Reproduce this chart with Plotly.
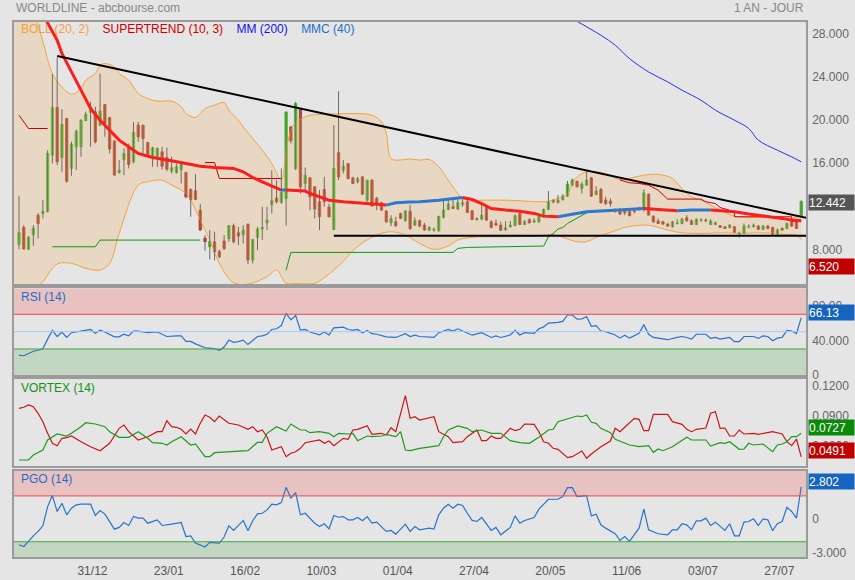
import plotly.graph_objects as go

# ---- daily candles (session index 0 = first candle on the left) ----
opens = [8.48, 10.05, 8.02, 9.38, 11.17, 11.35, 11.51, 16.75, 21.17, 16.54,
         20.15, 15.52, 17.52, 17.52, 19.96, 20.70, 20.76, 19.53, 21.44, 20.24,
         18.05, 15.12, 16.35, 17.46, 16.13, 19.53, 19.53, 17.92, 16.60, 16.60,
         17.06, 16.54, 15.27, 15.15, 15.42, 15.15, 13.57, 13.45, 11.66, 9.07,
         8.26, 8.72, 7.80, 8.79, 9.03, 10.21, 9.56, 9.40, 10.36, 7.03,
         9.13, 9.90, 10.48, 12.18, 12.77, 12.37, 12.74, 19.37, 15.52, 21.01,
         14.13, 14.65, 13.82, 12.43, 13.57, 11.94, 9.87, 16.97, 15.36, 15.98,
         14.65, 14.28, 14.74, 12.58, 14.44, 12.74, 12.34, 11.57, 10.48, 10.58,
         11.35, 10.67, 11.56, 10.27, 10.67, 10.27, 9.81, 9.81, 9.75, 10.98,
         11.72, 11.97, 11.75, 12.18, 12.43, 11.60, 10.85, 10.82, 11.87, 10.58,
         10.42, 10.27, 9.81, 10.11, 10.21, 11.35, 10.33, 10.79, 10.55, 10.58,
         11.10, 11.75, 12.58, 12.37, 12.64, 12.95, 13.97, 14.34, 13.66, 13.97,
         14.65, 13.11, 13.57, 12.58, 12.49, 11.60, 11.75, 11.66, 11.56, 11.56,
         11.75, 11.87, 13.14, 11.10, 10.64, 10.58, 10.36, 10.11, 10.42, 10.42,
         10.95, 10.67, 10.33, 10.73, 10.73, 10.33, 10.33, 10.21, 10.11, 10.05,
         10.11, 9.44, 9.50, 10.11, 10.11, 10.18, 9.87, 10.18, 10.05, 9.41,
         9.96, 9.96, 10.64, 10.73, 11.13]
highs = [12.99, 10.27, 9.25, 10.27, 11.38, 12.59, 17.21, 24.25, 25.79, 21.01,
         20.20, 17.99, 19.13, 20.09, 20.76, 21.69, 21.23, 24.31, 21.47, 20.30,
         18.14, 16.29, 17.37, 17.83, 19.81, 19.84, 19.55, 17.99, 17.52, 17.46,
         17.52, 17.46, 16.60, 15.98, 15.98, 15.20, 13.67, 14.99, 12.22, 9.34,
         9.81, 9.65, 8.00, 9.34, 10.27, 10.42, 10.11, 10.27, 10.40, 8.94,
         10.11, 11.97, 11.97, 15.36, 14.44, 15.52, 20.76, 19.40, 21.69, 21.07,
         15.61, 14.70, 13.85, 13.51, 14.74, 12.27, 19.53, 22.68, 16.29, 16.00,
         14.74, 14.74, 14.76, 14.44, 14.50, 12.89, 12.43, 11.66, 11.19, 11.04,
         11.41, 11.66, 12.12, 10.98, 10.79, 10.48, 10.18, 10.05, 11.10, 12.52,
         12.58, 12.64, 12.64, 12.83, 12.80, 11.66, 10.98, 12.21, 11.97, 10.73,
         10.79, 10.58, 10.64, 10.64, 11.26, 11.41, 10.73, 10.89, 10.89, 11.29,
         11.81, 13.42, 12.64, 13.05, 13.14, 14.37, 14.59, 14.37, 14.28, 15.21,
         14.74, 13.88, 13.73, 12.89, 12.74, 11.81, 11.81, 11.81, 11.66, 11.66,
         11.97, 13.57, 13.20, 11.19, 10.89, 10.67, 10.48, 10.64, 10.82, 10.95,
         11.19, 10.79, 10.89, 10.89, 10.89, 10.82, 10.58, 10.27, 10.18, 10.36,
         10.18, 9.65, 10.42, 10.33, 10.42, 10.27, 10.27, 10.27, 10.11, 9.96,
         10.05, 10.48, 10.89, 10.79, 12.58]
lows = [8.02, 8.00, 8.00, 8.36, 9.04, 10.89, 11.45, 15.98, 15.83, 15.21,
        14.19, 14.84, 15.36, 16.60, 19.90, 17.52, 17.83, 19.47, 18.45, 16.91,
        14.84, 15.05, 14.90, 15.52, 15.98, 17.99, 16.91, 16.60, 15.67, 15.67,
        15.42, 15.27, 15.05, 15.05, 14.13, 12.74, 11.04, 12.59, 9.75, 7.89,
        7.09, 7.00, 7.20, 7.95, 8.73, 8.57, 8.42, 8.57, 6.66, 6.72,
        7.95, 8.88, 9.81, 11.35, 12.27, 12.27, 10.21, 17.83, 15.36, 13.20,
        13.51, 11.66, 10.89, 9.81, 11.97, 10.98, 9.81, 14.44, 15.05, 14.50,
        14.06, 14.13, 13.05, 12.43, 11.97, 11.66, 11.60, 10.48, 10.17, 10.11,
        10.82, 10.58, 9.81, 10.18, 10.05, 9.75, 9.71, 9.65, 9.65, 10.89,
        11.66, 11.75, 11.66, 11.97, 11.41, 10.73, 10.67, 10.73, 10.67, 9.96,
        10.18, 9.75, 9.78, 10.05, 10.18, 10.27, 10.27, 10.42, 10.48, 10.48,
        10.98, 11.66, 12.27, 12.27, 12.52, 12.89, 13.88, 13.76, 13.20, 13.91,
        12.89, 13.05, 12.27, 12.12, 11.97, 11.41, 11.19, 11.19, 11.10, 11.35,
        11.60, 11.50, 11.19, 10.48, 10.36, 10.30, 10.11, 10.05, 10.33, 10.33,
        10.58, 10.27, 10.27, 10.58, 10.52, 10.27, 10.27, 10.02, 9.90, 9.96,
        9.56, 9.13, 9.44, 9.96, 10.05, 9.81, 9.81, 9.87, 9.34, 9.34,
        9.75, 9.90, 10.11, 9.90, 11.10]
closes = [9.56, 8.05, 9.13, 9.99, 10.42, 11.54, 16.91, 21.17, 16.13, 19.59,
          14.34, 17.77, 18.97, 19.96, 20.52, 21.23, 17.99, 20.83, 19.68, 17.31,
          14.90, 15.36, 16.91, 15.89, 18.85, 18.45, 18.29, 16.75, 17.43, 17.37,
          15.73, 15.46, 15.58, 15.67, 15.89, 12.89, 12.65, 12.65, 9.81, 8.73,
          8.76, 7.80, 7.34, 8.11, 10.21, 8.73, 9.25, 9.81, 7.03, 8.94,
          9.90, 10.05, 10.73, 12.52, 12.43, 13.29, 20.76, 18.08, 21.53, 13.82,
          14.87, 12.89, 11.75, 11.04, 12.43, 11.04, 15.52, 14.74, 15.73, 14.59,
          14.13, 14.56, 13.14, 14.44, 12.03, 12.21, 11.66, 10.58, 10.86, 10.21,
          10.89, 11.57, 9.96, 10.67, 10.18, 9.81, 10.05, 9.87, 11.10, 11.66,
          12.21, 11.81, 12.34, 12.34, 11.44, 10.79, 10.82, 11.19, 10.73, 10.05,
          10.27, 9.78, 10.02, 10.27, 11.13, 10.33, 10.58, 10.48, 10.67, 11.10,
          11.72, 12.43, 12.43, 12.58, 12.95, 14.06, 14.44, 13.82, 14.06, 14.44,
          12.95, 13.42, 12.34, 12.27, 12.27, 11.56, 11.29, 11.41, 11.13, 11.53,
          11.72, 13.26, 11.19, 10.58, 10.42, 10.36, 10.18, 10.58, 10.45, 10.82,
          10.67, 10.33, 10.82, 10.74, 10.70, 10.64, 10.48, 10.05, 9.96, 10.27,
          9.59, 9.53, 10.18, 10.15, 10.27, 9.87, 10.18, 9.96, 9.41, 9.81,
          9.81, 10.42, 10.18, 9.96, 12.44]
days = list(range(len(closes)))

date_labels = ["31/12", "23/01", "16/02", "10/03", "01/04",
               "27/04", "20/05", "11/06", "03/07", "27/07"]

# ---- overlays (session index, value) ----
boll_up_day = [-1, 3, 5, 7, 9, 11, 13, 14, 16, 17, 18, 20, 21, 23, 25, 27, 29, 32, 34, 35,
               37, 38, 39, 41, 43, 44, 46, 47, 49, 51, 53, 55, 56, 57, 58, 60, 61, 65, 70, 74,
               76, 77, 78, 80, 82, 84, 86, 88, 90, 92, 93, 95, 98, 102, 105, 109, 111, 113, 115, 116,
               117, 119, 121, 123, 126, 130, 133, 135, 137, 139, 141, 143, 145, 147, 150, 153, 156, 159, 162, 164]
boll_up = [33.0, 30.0, 27.3, 24.31, 23.08, 22.4, 22.92, 23.70, 24.31, 25.08, 25.24, 24.93, 24.31, 23.70, 22.46, 22.0, 21.75, 21.75, 21.23, 20.61,
           20.24, 20.61, 21.07, 21.38, 21.63, 20.92, 19.99, 19.37, 18.29, 17.21, 15.98, 14.44, 17.21, 19.06, 19.84, 20.30, 20.45, 20.55, 20.61, 20.45,
           19.84, 18.76, 16.44, 16.29, 16.40, 16.29, 16.35, 15.67, 14.44, 13.20, 12.74, 12.58, 12.58, 12.58, 12.52, 12.43, 12.49, 12.74, 13.20, 14.13,
           14.74, 15.21, 15.21, 15.05, 14.50, 14.81, 14.99, 14.90, 14.59, 13.66, 12.89, 12.58, 12.12, 11.66, 11.10, 10.98, 10.98, 10.92, 10.89, 11.20]
boll_low_day = [-1, 4, 8, 11, 14, 17, 19, 21, 25, 27, 30, 32, 35, 38, 40, 42, 45, 48, 52, 54,
                56, 58, 62, 64, 66, 68, 70, 73, 76, 78, 80, 82, 84, 87, 90, 92, 95, 102, 109, 112,
                114, 117, 119, 121, 123, 125, 127, 131, 133, 136, 139, 144, 148, 151, 155, 158, 161, 163, 164]
boll_low = [4.0, 4.6, 6.66, 6.72, 6.26, 6.10, 6.72, 9.50, 13.97, 14.28, 14.44, 13.97, 13.20, 10.73, 8.88, 6.72, 4.93, 4.80, 5.48, 6.10,
            4.87, 4.85, 4.87, 5.40, 6.10, 6.90, 7.90, 8.90, 9.50, 9.65, 9.50, 9.10, 8.57, 8.02, 8.33, 8.88, 9.13, 9.19, 9.25, 9.41,
            9.13, 8.73, 8.73, 9.13, 9.44, 9.75, 10.05, 10.27, 10.18, 9.81, 9.56, 9.50, 9.56, 9.50, 9.56, 9.50, 9.40, 9.34, 8.94]

mmc_day = [4, 5, 8, 9, 11, 13, 15, 17, 19, 21, 23, 25, 28, 30, 32, 35, 38, 41, 42, 45,
           47, 49, 51, 53, 55, 56, 58, 60, 61, 63, 65, 68, 71, 74, 77, 79, 82, 84, 88, 91,
           93, 95, 97, 99, 102, 105, 108, 110, 113, 115, 117, 119, 123, 126, 129, 131, 134, 136, 138, 141,
           145, 147, 150, 153, 157, 160, 162, 164]
mmc = [30.5, 29.8, 27.4, 26.17, 24.47, 22.77, 21.07, 19.99, 19.07, 18.14, 17.52, 16.91, 16.54, 16.35, 16.23, 15.98, 15.73, 15.61, 15.58, 15.52,
       15.21, 14.68, 14.28, 13.88, 13.51, 13.52, 13.50, 13.42, 13.20, 12.89, 12.58, 12.43, 12.34, 12.21, 12.12, 12.34, 12.40, 12.43, 12.58, 12.74,
       12.83, 12.64, 12.27, 11.81, 11.66, 11.56, 11.35, 11.10, 11.04, 11.19, 11.35, 11.50, 11.60, 11.66, 11.75, 11.81, 11.72, 11.66, 11.60, 11.66,
       11.67, 11.60, 11.50, 11.29, 11.10, 10.89, 10.73, 10.67]

mm200_day = [116, 122, 125, 128, 132, 136, 139, 143, 146, 150, 153, 155, 159, 162, 164]
mm200 = [29.4, 27.86, 26.94, 25.70, 24.46, 23.54, 22.77, 21.84, 20.92, 19.99, 19.22, 18.14, 17.21, 16.59, 16.13]

st_down_day = [0, 2, 6, None, 39, 41, 42, 55, None,
               126, 128, 130, 132, 134, 135, 136, 143, 144, 146, 147, 150, 150, 162, 162, 164]
st_down = [20.45, 19.22, 19.22, None, 16.07, 16.07, 14.59, 14.59, None,
           14.44, 14.19, 14.13, 13.97, 13.51, 13.05, 12.68, 12.68, 12.43, 12.27, 11.90, 11.50, 11.04, 11.04, 10.64, 10.64]
st_up_day = [7, 16, 17, 38, None, 56, 57, 91, 92, 94, 110, 111, 112, 113, 114, 115, 117, 119, 123]
st_up = [8.26, 8.26, 8.88, 8.88, None, 6.10, 7.74, 7.74, 8.11, 8.20, 8.33, 9.19, 9.50, 9.90, 10.05, 10.42, 10.95, 11.41, 11.66]

resist_day = [8, 165]
resist = [25.94, 10.94]
support_day = [66, 165]
support = [9.27, 9.27]

rsi_day = [0, 1, 2, 3, 4, 5, 6, 7, 8, 9, 10, 11, 13, 15, 16, 17, 18, 20, 21, 22,
           23, 24, 25, 27, 29, 30, 31, 33, 34, 35, 36, 37, 39, 40, 41, 42, 43, 44, 45, 46,
           47, 48, 50, 51, 52, 53, 54, 55, 56, 57, 58, 59, 60, 61, 62, 63, 64, 65, 66, 67,
           68, 69, 70, 71, 72, 73, 74, 75, 77, 79, 81, 82, 83, 84, 87, 88, 90, 91, 92, 93,
           95, 97, 99, 100, 101, 103, 104, 105, 106, 108, 109, 110, 111, 113, 114, 115, 116, 117, 118, 119,
           120, 121, 122, 123, 125, 126, 127, 128, 130, 131, 132, 133, 136, 138, 139, 140, 141, 142, 144, 145,
           146, 147, 149, 150, 151, 152, 154, 155, 156, 157, 158, 159, 160, 161, 162, 163, 164]
rsi = [22.9, 22.2, 24.8, 27.4, 28.5, 30.3, 41.4, 51.4, 44.4, 49.6, 43.3, 48.8, 50.7, 52.5, 48.1, 51.8, 49.6, 44.0, 44.0, 47.0,
       45.1, 50.7, 50.7, 48.8, 49.6, 47.0, 44.4, 45.1, 45.1, 38.8, 38.8, 35.9, 31.4, 31.1, 30.3, 28.5, 32.2, 40.3, 37.7, 38.5,
       40.3, 35.1, 44.4, 45.1, 47.0, 52.5, 53.3, 57.0, 71.1, 63.7, 68.5, 51.8, 52.5, 49.6, 47.7, 46.2, 49.6, 46.2, 54.4, 54.4,
       55.1, 52.5, 51.8, 52.5, 48.8, 51.4, 47.7, 47.0, 44.0, 43.3, 47.7, 44.4, 45.9, 44.4, 43.3, 48.8, 52.5, 50.7, 53.3, 50.7,
       45.9, 48.8, 43.3, 45.1, 43.3, 46.2, 51.4, 46.2, 48.8, 48.1, 53.3, 55.5, 59.9, 60.7, 61.8, 69.2, 69.2, 64.4, 64.8, 67.4,
       56.2, 57.0, 50.7, 50.0, 46.2, 42.5, 45.9, 42.5, 48.1, 58.1, 47.0, 43.3, 40.7, 43.3, 44.4, 43.3, 41.4, 47.0, 47.0, 42.2,
       43.3, 41.4, 43.3, 38.5, 38.5, 44.4, 44.4, 42.2, 45.1, 44.4, 39.6, 42.5, 43.3, 51.4, 50.7, 47.7, 66.13]

vim_day = [0, 1, 2, 3, 4, 5, 6, 7, 8, 9, 10, 11, 13, 15, 17, 19, 21, 22, 23, 25,
           27, 29, 30, 31, 32, 33, 34, 35, 36, 37, 38, 39, 40, 41, 42, 43, 44, 46, 48, 49,
           50, 51, 52, 53, 54, 55, 56, 57, 58, 59, 60, 62, 63, 64, 65, 66, 68, 69, 70, 71,
           73, 74, 76, 77, 78, 79, 81, 82, 83, 84, 87, 88, 90, 91, 93, 94, 96, 97, 98, 99,
           100, 101, 103, 104, 105, 106, 108, 109, 110, 111, 112, 113, 115, 116, 118, 119, 120, 122, 124, 125,
           126, 127, 129, 130, 131, 132, 133, 136, 137, 139, 140, 141, 142, 144, 145, 146, 147, 148, 149, 150,
           151, 152, 154, 155, 157, 158, 160, 161, 162, 163, 164]
vim = [0.0977, 0.0987, 0.1010, 0.0993, 0.0927, 0.0843, 0.0727, 0.0627, 0.0603, 0.0677, 0.0683, 0.0700, 0.0643, 0.0593, 0.0553, 0.0627, 0.0777, 0.0810, 0.0743, 0.0660,
       0.0693, 0.0743, 0.0743, 0.0853, 0.0793, 0.0787, 0.0767, 0.0720, 0.0770, 0.0720, 0.0827, 0.0910, 0.0887, 0.0843, 0.0900, 0.0860, 0.0827, 0.0810, 0.0767, 0.0793,
       0.0743, 0.0760, 0.0693, 0.0560, 0.0577, 0.0593, 0.0493, 0.0527, 0.0543, 0.0577, 0.0633, 0.0653, 0.0660, 0.0627, 0.0650, 0.0603, 0.0677, 0.0667, 0.0760, 0.0767,
       0.0803, 0.0717, 0.0727, 0.0710, 0.0783, 0.0743, 0.1103, 0.0877, 0.0893, 0.0860, 0.0893, 0.0743, 0.0693, 0.0633, 0.0643, 0.0693, 0.0760, 0.0653, 0.0653, 0.0700,
       0.0677, 0.0677, 0.0777, 0.0753, 0.0767, 0.0820, 0.0817, 0.0743, 0.0643, 0.0627, 0.0577, 0.0567, 0.0483, 0.0493, 0.0550, 0.0477, 0.0520, 0.0593, 0.0650, 0.0777,
       0.0743, 0.0787, 0.0877, 0.0867, 0.0753, 0.0753, 0.0917, 0.0917, 0.0843, 0.0817, 0.0767, 0.0743, 0.0767, 0.0780, 0.0927, 0.0943, 0.0777, 0.0780, 0.0700, 0.0700,
       0.0760, 0.0720, 0.0727, 0.0717, 0.0733, 0.0743, 0.0720, 0.0643, 0.0603, 0.0670, 0.0491]
vip_day = [0, 2, 3, 4, 5, 6, 8, 10, 11, 13, 14, 16, 18, 19, 21, 23, 25, 27, 28, 30,
           31, 32, 34, 36, 37, 39, 40, 41, 44, 46, 48, 50, 51, 52, 54, 56, 57, 59, 60, 61,
           63, 65, 66, 67, 69, 70, 71, 73, 74, 76, 77, 79, 80, 81, 82, 84, 86, 88, 89, 90,
           92, 94, 95, 97, 99, 101, 103, 105, 107, 109, 111, 112, 113, 116, 117, 118, 119, 120, 121, 122,
           124, 125, 128, 130, 132, 133, 134, 135, 137, 140, 141, 144, 145, 147, 148, 149, 151, 152, 153, 154,
           156, 158, 159, 160, 161, 162, 163, 164]
vip = [0.0460, 0.0460, 0.0510, 0.0537, 0.0560, 0.0660, 0.0720, 0.0700, 0.0727, 0.0793, 0.0833, 0.0820, 0.0793, 0.0743, 0.0687, 0.0687, 0.0743, 0.0677, 0.0633, 0.0627,
       0.0610, 0.0643, 0.0693, 0.0610, 0.0620, 0.0493, 0.0493, 0.0533, 0.0543, 0.0543, 0.0553, 0.0637, 0.0637, 0.0727, 0.0793, 0.0750, 0.0820, 0.0760, 0.0760, 0.0733,
       0.0743, 0.0727, 0.0693, 0.0727, 0.0720, 0.0727, 0.0653, 0.0700, 0.0693, 0.0700, 0.0717, 0.0693, 0.0743, 0.0560, 0.0553, 0.0577, 0.0587, 0.0603, 0.0693, 0.0760,
       0.0800, 0.0777, 0.0743, 0.0760, 0.0727, 0.0727, 0.0653, 0.0633, 0.0627, 0.0687, 0.0760, 0.0767, 0.0843, 0.0883, 0.0900, 0.0893, 0.0910, 0.0837, 0.0827, 0.0777,
       0.0733, 0.0667, 0.0610, 0.0593, 0.0603, 0.0537, 0.0570, 0.0553, 0.0593, 0.0687, 0.0660, 0.0660, 0.0600, 0.0633, 0.0627, 0.0643, 0.0567, 0.0570, 0.0627, 0.0610,
       0.0620, 0.0543, 0.0610, 0.0620, 0.0643, 0.0693, 0.0693, 0.0727]

pgo_day = [0, 1, 2, 3, 4, 5, 6, 7, 8, 9, 10, 11, 12, 13, 15, 16, 17, 18, 20, 21,
           22, 23, 24, 25, 26, 27, 29, 30, 32, 34, 35, 36, 37, 39, 40, 41, 42, 43, 44, 45,
           47, 48, 49, 50, 51, 52, 53, 54, 55, 56, 57, 58, 59, 60, 61, 62, 63, 64, 65, 66,
           67, 68, 69, 70, 71, 72, 73, 74, 75, 77, 78, 79, 81, 82, 83, 84, 86, 87, 88, 89,
           90, 91, 92, 93, 94, 95, 96, 97, 99, 100, 101, 103, 104, 105, 106, 108, 109, 111, 113, 114,
           115, 116, 117, 119, 120, 121, 122, 123, 125, 126, 127, 128, 130, 131, 132, 134, 136, 137, 138, 139,
           140, 141, 142, 143, 144, 145, 146, 147, 148, 149, 150, 151, 152, 153, 154, 155, 156, 157, 158, 159,
           160, 161, 162, 163, 164]
pgo = [-2.26, -2.41, -1.97, -1.48, -1.10, -0.61, 1.07, 2.03, 0.64, 1.36, 0.35, 0.93, 1.22, 1.28, 1.28, 0.29, 0.72, 0.41, -0.90, -0.75,
       -0.32, -0.58, 0.20, 0.06, 0.06, -0.38, -0.09, -0.58, -0.46, -0.32, -1.54, -1.48, -2.12, -2.46, -2.06, -2.12, -2.12, -1.59, -0.61, -1.01,
       -0.14, -1.04, -0.17, 0.43, 0.49, 0.78, 1.28, 1.22, 1.42, 2.75, 1.80, 2.29, 0.35, 0.49, 0.06, -0.38, -0.67, -0.43, -0.87, 0.29,
       0.14, 0.20, -0.09, -0.09, 0.12, -0.17, 0.20, -0.38, -0.29, -1.10, -1.01, -1.33, -0.46, -1.10, -0.67, -0.96, -0.81, -0.90, 0.35, 0.93,
       1.28, 0.93, 1.28, 1.16, 0.49, -0.14, -0.23, 0.12, -1.01, -0.75, -1.39, -0.75, 0.26, -0.38, -0.14, 0.12, 0.84, 1.71, 1.71, 1.94,
       2.72, 2.72, 1.94, 2.03, 0.26, 0.41, -0.52, -0.81, -1.30, -1.88, -1.54, -1.97, -0.81, 0.84, -0.96, -1.30, -1.39, -0.96, -0.96, -0.43,
       -0.52, -0.96, -0.17, -0.17, 0.06, -0.58, -0.29, -0.67, -1.01, -0.43, -1.48, -1.48, -0.29, -0.23, 0.00, -0.58, 0.00, -0.09, -1.04, -0.43,
       -0.23, 1.01, 0.64, 0.06, 2.802]

last_price = 12.442
supertrend_label = 6.520

# ---- look ----
FONT = "Arial, Liberation Sans, sans-serif"
BG = "#e5e5e5"
FRAME = "#9b9b9b"
TXT = "#666666"
H, MT, MB = 580, 22, 23
PLOT_H = H - MT - MB


def py(pixel_y):
    # pixel row -> paper fraction
    return (H - MB - pixel_y) / PLOT_H


fig = go.Figure()

# bollinger envelope
fig.add_trace(go.Scatter(x=boll_up_day, y=boll_up, mode="lines", line=dict(color="#f5a23a", width=1),
                         line_shape="spline", xaxis="x", yaxis="y", hoverinfo="skip"))
fig.add_trace(go.Scatter(x=boll_low_day, y=boll_low, mode="lines", line=dict(color="#f5a23a", width=1),
                         line_shape="spline", fill="tonexty", fillcolor="rgba(240,188,120,0.32)",
                         xaxis="x", yaxis="y", hoverinfo="skip"))

# supertrend
fig.add_trace(go.Scatter(x=st_down_day, y=st_down, mode="lines", line=dict(color="#cc0000", width=1),
                         connectgaps=False, xaxis="x", yaxis="y"))
fig.add_trace(go.Scatter(x=st_up_day, y=st_up, mode="lines", line=dict(color="#119911", width=1),
                         connectgaps=False, xaxis="x", yaxis="y"))

# MM 200
fig.add_trace(go.Scatter(x=mm200_day, y=mm200, mode="lines", line=dict(color="#2233ee", width=1),
                         line_shape="spline", xaxis="x", yaxis="y"))

# wicks then bodies
wx, wy = [], []
for d, h, l in zip(days, highs, lows):
    wx += [d, d, None]
    wy += [l, h, None]
fig.add_trace(go.Scatter(x=wx, y=wy, mode="lines", line=dict(color="#6e6a66", width=1),
                         xaxis="x", yaxis="y", hoverinfo="skip"))
fig.add_trace(go.Candlestick(
    x=days, open=opens, close=closes,
    high=[max(o, c) for o, c in zip(opens, closes)],
    low=[min(o, c) for o, c in zip(opens, closes)],
    increasing=dict(line=dict(color="#2fb516", width=0.8), fillcolor="#33dd11"),
    decreasing=dict(line=dict(color="#c42a12", width=0.8), fillcolor="#e3300f"),
    xaxis="x", yaxis="y"))

# MMC 40, red while falling, blue while rising
def add_mmc(xs, ys, up):
    fig.add_trace(go.Scatter(x=xs, y=ys, mode="lines", xaxis="x", yaxis="y",
                             line=dict(color="#2a7ad2" if up else "#ff1c1c", width=3)))


seg_x, seg_y = [mmc_day[0]], [mmc[0]]
rising = mmc[1] >= mmc[0]
for i in range(1, len(mmc)):
    r = mmc[i] >= mmc[i - 1]
    if r != rising:
        add_mmc(seg_x, seg_y, rising)
        seg_x, seg_y = [mmc_day[i - 1]], [mmc[i - 1]]
        rising = r
    seg_x.append(mmc_day[i])
    seg_y.append(mmc[i])
add_mmc(seg_x, seg_y, rising)

# trendlines
fig.add_trace(go.Scatter(x=resist_day, y=resist, mode="lines", line=dict(color="black", width=2),
                         xaxis="x", yaxis="y"))
fig.add_trace(go.Scatter(x=support_day, y=support, mode="lines", line=dict(color="black", width=2),
                         xaxis="x", yaxis="y"))

# RSI
fig.add_trace(go.Scatter(x=rsi_day, y=rsi, mode="lines", line=dict(color="#2a72cc", width=1.2),
                         xaxis="x2", yaxis="y2"))
# Vortex
fig.add_trace(go.Scatter(x=vim_day, y=vim, mode="lines", line=dict(color="#cc1414", width=1.2),
                         xaxis="x3", yaxis="y3"))
fig.add_trace(go.Scatter(x=vip_day, y=vip, mode="lines", line=dict(color="#1f9a1f", width=1.2),
                         xaxis="x3", yaxis="y3"))
# PGO
fig.add_trace(go.Scatter(x=pgo_day, y=pgo, mode="lines", line=dict(color="#2a72cc", width=1.2),
                         xaxis="x4", yaxis="y4"))

frame = dict(showline=True, mirror=True, linecolor=FRAME, linewidth=1.5,
             showgrid=False, zeroline=False, fixedrange=True, automargin=False)
tickf = dict(family=FONT, size=12, color=TXT)
xr = [-1.05, 165]

price_rng = [4.81, 29.09]
rsi_rng = [0, 100]
vtx_rng = [0.0403, 0.1267]
pgo_rng = [-3.33, 4.2]

# 12.000 and 3.000 sit under the last-value boxes on the original, so they are left out
price_ticks = [8, 16, 20, 24, 28]

fig.update_layout(
    width=855, height=H,
    margin=dict(l=14, r=49, t=MT, b=MB, autoexpand=False),
    paper_bgcolor=BG, plot_bgcolor=BG,
    showlegend=False,
    font=dict(family=FONT, size=12, color=TXT),
    xaxis=dict(domain=[0, 1], anchor="y", range=xr, showticklabels=False,
               rangeslider=dict(visible=False), **frame),
    xaxis2=dict(domain=[0, 1], anchor="y2", matches="x", showticklabels=False, **frame),
    xaxis3=dict(domain=[0, 1], anchor="y3", matches="x", showticklabels=False, **frame),
    xaxis4=dict(domain=[0, 1], anchor="y4", matches="x",
                tickvals=[15.4 + 16 * k for k in range(len(date_labels))], ticktext=date_labels,
                tickfont=dict(family=FONT, size=12, color="#555555"), ticks="", ticklabelstandoff=2, **frame),
    yaxis=dict(domain=[py(284), 1], anchor="x", side="right", range=price_rng,
               tickvals=price_ticks, ticktext=[f"{v:.3f}" for v in price_ticks],
               tickfont=tickf, ticklabelstandoff=2, **frame),
    yaxis2=dict(domain=[py(375), py(288.3)], anchor="x2", side="right", range=rsi_rng,
                tickvals=[0, 40, 80], ticktext=["0", "40.000", "80.00"],
                tickfont=tickf, ticklabelstandoff=2, **frame),
    yaxis3=dict(domain=[py(465.7), py(379.3)], anchor="x3", side="right", range=vtx_rng,
                tickvals=[0.06, 0.09, 0.12], ticktext=["0.0600", "0.0900", "0.1200"],
                tickfont=tickf, ticklabelstandoff=2, **frame),
    yaxis4=dict(domain=[0, py(470.7)], anchor="x4", side="right", range=pgo_rng,
                tickvals=[-3, 0], ticktext=["-3.000", "0"],
                tickfont=tickf, ticklabelstandoff=2, **frame),
)

# overbought / oversold zones
shapes = [
    dict(type="rect", xref="x2 domain", x0=0, x1=1, yref="y2", y0=70, y1=rsi_rng[1],
         fillcolor="#e8c1c1", line_width=0, layer="below"),
    dict(type="rect", xref="x2 domain", x0=0, x1=1, yref="y2", y0=rsi_rng[0], y1=30,
         fillcolor="#c3d6c2", line_width=0, layer="below"),
    dict(type="line", xref="x2 domain", x0=0, x1=1, yref="y2", y0=70, y1=70, line=dict(color="#ee4b4b", width=1)),
    dict(type="line", xref="x2 domain", x0=0, x1=1, yref="y2", y0=50, y1=50, line=dict(color="#9ccbfa", width=1)),
    dict(type="line", xref="x2 domain", x0=0, x1=1, yref="y2", y0=30, y1=30, line=dict(color="#3ea83e", width=1)),
    dict(type="rect", xref="x4 domain", x0=0, x1=1, yref="y4", y0=2, y1=pgo_rng[1],
         fillcolor="#e8c1c1", line_width=0, layer="below"),
    dict(type="rect", xref="x4 domain", x0=0, x1=1, yref="y4", y0=pgo_rng[0], y1=-2,
         fillcolor="#c3d6c2", line_width=0, layer="below"),
    dict(type="line", xref="x4 domain", x0=0, x1=1, yref="y4", y0=2, y1=2, line=dict(color="#ee4b4b", width=1)),
    dict(type="line", xref="x4 domain", x0=0, x1=1, yref="y4", y0=-2, y1=-2, line=dict(color="#3ea83e", width=1)),
]
fig.update_layout(shapes=shapes)


def label(text, x, y, color, anchor="left"):
    return dict(text=text, x=x, y=y, xref="paper", yref="paper", xanchor=anchor, yanchor="middle",
                showarrow=False, font=dict(family=FONT, size=12, color=color))


def value_box(text, y, yref, color, shift=0):
    return dict(text=text, x=1, xref="paper", xanchor="left", xshift=2, y=y, yref=yref, yshift=shift,
                yanchor="middle", showarrow=False, bgcolor=color, width=45, height=15, align="left",
                borderpad=0, font=dict(family=FONT, size=12, color="white"))


legend_html = ("<span style='color:#f5a23a'>BOLL (20, 2)</span>&nbsp;&nbsp;&nbsp;&nbsp;"
               "<span style='color:#cc0000'>SUPERTREND (10, 3)</span>&nbsp;&nbsp;&nbsp;&nbsp;"
               "<span style='color:#1111ee'>MM (200)</span>&nbsp;&nbsp;&nbsp;&nbsp;"
               "<span style='color:#1e6ec8'>MMC (40)</span>")

fig.update_layout(annotations=[
    label("WORLDLINE - abcbourse.com", 0, py(8), "#888888"),
    label("1 AN - JOUR", 1, py(8), "#888888", anchor="right"),
    label(legend_html, 5 / 792, py(29), "#888888"),
    label("RSI (14)", 5 / 792, py(297), "#1e6ec8"),
    label("VORTEX (14)", 5 / 792, py(388), "#139313"),
    label("PGO (14)", 5 / 792, py(479), "#1e6ec8"),
    value_box(f"{last_price:.3f}", last_price, "y", "#555555", -1),
    value_box(f"{supertrend_label:.3f}", supertrend_label, "y", "#c00000", -1),
    value_box(f"{rsi[-1]:.2f}", rsi[-1], "y2", "#1565c0", 5),
    value_box(f"{vip[-1]:.4f}", vip[-1], "y3", "#0a8a0a", 6),
    value_box(f"{vim[-1]:.4f}", vim[-1], "y3", "#c00000", 6),
    value_box(f"{pgo[-1]:.3f}", pgo[-1], "y4", "#1565c0", 5),
])

# the page's default body margin would shift the whole figure
fig.write_html("out.html", config={"displayModeBar": False},
               post_script="document.body.style.margin='0';")
